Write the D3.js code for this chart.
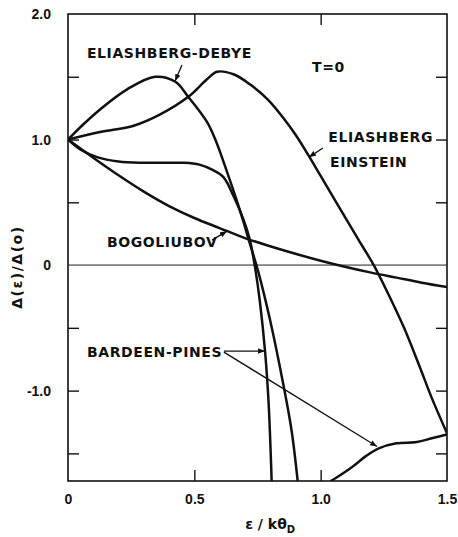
<!DOCTYPE html>
<html>
<head>
<meta charset="utf-8">
<script src="https://cdn.jsdelivr.net/npm/d3@7"></script>
<style>
  body { margin: 0; background: #fff; }
  svg { display: block; }
  .lbl { font-family: 'DejaVu Sans', sans-serif; font-weight: bold; font-size: 14px; fill: #111; }
  .tick text { font-family: 'Liberation Sans', sans-serif; font-weight: bold; font-size: 14px; fill: #111; }
</style>
</head>
<body>
<svg width="458" height="537"></svg>
<script>
// values (x = eps/k theta_D, y = Delta(eps)/Delta(0))
const debyeX = [0, 0.06, 0.127, 0.234, 0.345, 0.425, 0.476, 0.55, 0.583, 0.64, 0.683, 0.72, 0.754, 0.80, 0.853, 0.885, 0.909]
const debyeY = [1.0, 1.12, 1.24, 1.4, 1.50, 1.46, 1.34, 1.14, 1.0, 0.68, 0.42, 0.17, -0.06, -0.44, -0.96, -1.32, -1.72]

const einsteinX = [0, 0.127, 0.26, 0.365, 0.476, 0.55, 0.59, 0.655, 0.72, 0.79, 0.853, 0.9, 0.95, 1.0, 1.05, 1.10, 1.15, 1.21, 1.27, 1.33, 1.39, 1.44, 1.5]
const einsteinY = [1.0, 1.06, 1.11, 1.2, 1.34, 1.48, 1.54, 1.52, 1.44, 1.32, 1.17, 1.04, 0.88, 0.71, 0.54, 0.37, 0.2, 0.0, -0.24, -0.5, -0.8, -1.06, -1.34]

const bogX = [0, 0.1, 0.2, 0.3, 0.4, 0.5, 0.6, 0.7, 0.8, 0.9, 1.0, 1.1, 1.2, 1.3, 1.4, 1.5]
const bogY = [1.0, 0.855, 0.715, 0.585, 0.47, 0.375, 0.295, 0.215, 0.15, 0.09, 0.035, -0.015, -0.06, -0.10, -0.14, -0.175]

const pinesX = [0, 0.05, 0.115, 0.2, 0.3, 0.4, 0.46, 0.52, 0.57, 0.615, 0.655, 0.695, 0.72, 0.742, 0.76, 0.78, 0.794, 0.806]
const pinesY = [1.0, 0.92, 0.86, 0.825, 0.815, 0.815, 0.815, 0.80, 0.76, 0.70, 0.55, 0.36, 0.2, -0.04, -0.3, -0.69, -1.1, -1.72]

const pinesLowX = [1.04, 1.08, 1.13, 1.18, 1.23, 1.30, 1.38, 1.44, 1.5]
const pinesLowY = [-1.72, -1.67, -1.6, -1.52, -1.46, -1.42, -1.41, -1.38, -1.35]

const xTicks = [0, 0.5, 1.0, 1.5]
const xTickLabels = ['0', '0.5', '1.0', '1.5']
const yTicks = [2.0, 1.5, 1.0, 0.5, 0, -0.5, -1.0, -1.5]
const yTickLabels = ['2.0', '', '1.0', '', '0', '', '-1.0', '']

// text labels and arrows, in data units
const labelText = ['ELIASHBERG-DEBYE', 'T=0', 'ELIASHBERG', 'EINSTEIN', 'BOGOLIUBOV', 'BARDEEN-PINES']
const labelX = [0.075, 0.966, 1.03, 1.037, 0.154, 0.075]
const labelY = [1.65, 1.54, 0.98, 0.78, 0.144, -0.733]

const arrowFrom = [[0.451, 1.594], [1.009, 0.933], [0.570, 0.199], [0.617, -0.685], [0.617, -0.693]]
const arrowTo = [[0.424, 1.466], [0.954, 0.86], [0.629, 0.27], [0.780, -0.685], [1.223, -1.445]]

const svg = d3.select('svg')
const mLeft = 68, mRight = 447, mTop = 14, mBottom = 481

const x = d3.scaleLinear().domain([0, 1.5]).range([mLeft, mRight])
const y = d3.scaleLinear().domain([-1.72, 2.0]).range([mBottom, mTop])

const defs = svg.append('defs')
defs.append('clipPath').attr('id', 'plot')
  .append('rect')
  .attr('x', mLeft).attr('y', mTop)
  .attr('width', mRight - mLeft).attr('height', mBottom - mTop)

defs.append('marker')
  .attr('id', 'head')
  .attr('viewBox', '0 0 10 10')
  .attr('refX', 10).attr('refY', 5)
  .attr('markerWidth', 7).attr('markerHeight', 7)
  .attr('markerUnits', 'userSpaceOnUse')
  .attr('orient', 'auto')
  .append('path')
  .attr('d', 'M0,1 L10,5 L0,9 Z')
  .attr('fill', '#111')

//#region axes
const yLeft = d3.axisLeft(y).tickValues(yTicks).tickSizeInner(-11).tickSizeOuter(0).tickPadding(17)
  .tickFormat((d, i) => yTickLabels[i])
const yRight = d3.axisRight(y).tickValues(yTicks.filter(d => d !== 0 && d !== 2)).tickSizeInner(-11).tickSizeOuter(0).tickFormat('')
const xBottom = d3.axisBottom(x).tickValues(xTicks).tickSizeInner(-11).tickSizeOuter(0).tickPadding(13)
  .tickFormat((d, i) => xTickLabels[i])
const xTop = d3.axisTop(x).tickValues([0.5, 1.0]).tickSizeInner(-11).tickSizeOuter(0).tickFormat('')

const styleAxis = g => {
  g.select('.domain').remove()
  g.selectAll('.tick line').attr('stroke', '#111').attr('stroke-width', 1.4)
}

svg.append('g').attr('transform', `translate(${mLeft},0)`).call(yLeft).call(styleAxis)
  .selectAll('.tick').filter(d => d === 2 || d === 0).select('line').remove()
svg.append('g').attr('transform', `translate(${mRight},0)`).call(yRight).call(styleAxis)
svg.append('g').attr('transform', `translate(0,${mBottom})`).call(xBottom).call(styleAxis)
  .selectAll('.tick').filter(d => d === 0 || d === 1.5).select('line').remove()
svg.append('g').attr('transform', `translate(0,${mTop})`).call(xTop).call(styleAxis)

svg.append('rect')
  .attr('x', mLeft).attr('y', mTop)
  .attr('width', mRight - mLeft).attr('height', mBottom - mTop)
  .attr('fill', 'none').attr('stroke', '#111').attr('stroke-width', 1.6)

svg.append('line')
  .attr('x1', x(0)).attr('x2', x(1.5))
  .attr('y1', y(0)).attr('y2', y(0))
  .attr('stroke', '#222').attr('stroke-width', 1)
//#endregion

//#region curves
const line = d3.line()
  .x(d => x(d[0]))
  .y(d => y(d[1]))
  .curve(d3.curveCatmullRom.alpha(0.5))

const series = [
  [debyeX, debyeY],
  [einsteinX, einsteinY],
  [bogX, bogY],
  [pinesX, pinesY],
  [pinesLowX, pinesLowY]
]

svg.append('g')
  .attr('clip-path', 'url(#plot)')
  .selectAll('path')
  .data(series.map(([xs, ys]) => xs.map((v, i) => [v, ys[i]])))
  .join('path')
  .attr('d', line)
  .attr('fill', 'none')
  .attr('stroke', '#111')
  .attr('stroke-width', 2.5)
  .attr('stroke-linejoin', 'round')
//#endregion

//#region labels
svg.append('g')
  .selectAll('text')
  .data(labelText)
  .join('text')
  .attr('class', 'lbl')
  .attr('x', (d, i) => x(labelX[i]))
  .attr('y', (d, i) => y(labelY[i]))
  .attr('letter-spacing', 0.6)
  .text(d => d)

svg.append('g')
  .selectAll('line')
  .data(arrowFrom)
  .join('line')
  .attr('x1', d => x(d[0])).attr('y1', d => y(d[1]))
  .attr('x2', (d, i) => x(arrowTo[i][0])).attr('y2', (d, i) => y(arrowTo[i][1]))
  .attr('stroke', '#111')
  .attr('stroke-width', 1.3)
  .attr('marker-end', 'url(#head)')

svg.append('text')
  .attr('class', 'lbl')
  .attr('transform', `translate(22, ${y(0) + 2}) rotate(-90)`)
  .attr('text-anchor', 'middle')
  .attr('letter-spacing', 1.5)
  .attr('font-size', '15px')
  .text('Δ(ε)/Δ(o)')

const xTitle = svg.append('text')
  .attr('class', 'lbl')
  .attr('x', (x(0.7) + x(0.9)) / 2)
  .attr('y', 529)
  .attr('text-anchor', 'middle')
  .attr('font-size', '14px')
xTitle.append('tspan').text('ε / kθ')
xTitle.append('tspan').attr('font-size', '10px').attr('dy', 4).text('D')
//#endregion
</script>
</body>
</html>
